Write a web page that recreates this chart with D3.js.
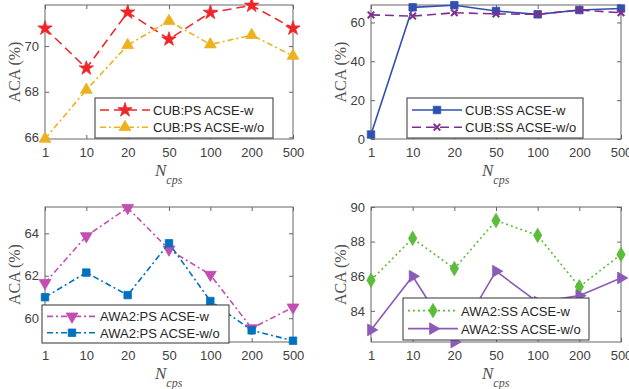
<!DOCTYPE html>
<html>
<head>
<meta charset="utf-8">
<script src="https://cdn.jsdelivr.net/npm/d3@7"></script>
<style>
  body { margin: 0; background: #fff; }
  svg { display: block; }
  .tick text { font-family: "Liberation Sans", Arial, sans-serif; font-size: 13px; fill: #404040; }
  .ylab, .xlab { font-family: "Liberation Serif", "Times New Roman", serif; fill: #505050; }
  .leg text { font-family: "Liberation Sans", Arial, sans-serif; font-size: 13px; fill: #262626; }
</style>
</head>
<body>
<main></main>
<script>
var width = 629;
var height = 389;

// x categories (N_cps)
var categories = ["1", "10", "20", "50", "100", "200", "500"];

// CUB:PS
var cubPsW  = [70.78, 69.03, 71.48, 70.30, 71.47, 71.78, 70.78];
var cubPsWo = [65.94, 68.08, 70.04, 71.10, 70.07, 70.48, 69.57];
// CUB:SS
var cubSsW  = [2.3, 67.8, 68.9, 65.9, 64.2, 66.4, 67.2];
var cubSsWo = [63.9, 63.3, 65.0, 64.4, 64.2, 66.4, 65.0];
// AWA2:PS
var awaPsW  = [61.66, 63.87, 65.20, 63.24, 62.05, 59.53, 60.51];
var awaPsWo = [60.99, 62.15, 61.09, 63.53, 60.81, 59.43, 58.94];
// AWA2:SS
var awaSsW  = [85.77, 88.19, 86.44, 89.22, 88.36, 85.39, 87.26];
var awaSsWo = [82.90, 86.00, 82.20, 86.29, 84.50, 84.88, 85.90];

// y ticks
var ticksCubPs = [66, 68, 70];
var ticksCubSs = [0, 20, 40, 60];
var ticksAwaPs = [60, 62, 64];
var ticksAwaSs = [84, 86, 88, 90];

var svg = d3.select("main").append("svg")
    .attr("width", width)
    .attr("height", height);

var panels = [
  { x0: 45, x1: 293, y0: 5, y1: 139, dom: [65.93, 71.8], ticks: ticksCubPs,
    leg: [95, 98, 178, 40],
    series: [
      { name: "CUB:PS ACSE-w", vals: cubPsW, color: "#f0252a", dash: "9,5", mark: "star" },
      { name: "CUB:PS ACSE-w/o", vals: cubPsWo, color: "#edb120", dash: "6,3,2,3", mark: "up" }
    ] },
  { x0: 371, x1: 621, y0: 5, y1: 139, dom: [0, 69], ticks: ticksCubSs,
    leg: [407, 98, 176, 40],
    series: [
      { name: "CUB:SS ACSE-w", vals: cubSsW, color: "#3050b0", dash: null, mark: "square" },
      { name: "CUB:SS ACSE-w/o", vals: cubSsWo, color: "#7e2f8e", dash: "9,5", mark: "x" }
    ] },
  { x0: 45, x1: 293, y0: 207, y1: 342, dom: [58.88, 65.24], ticks: ticksAwaPs,
    leg: [42, 305, 187, 38],
    series: [
      { name: "AWA2:PS ACSE-w", vals: awaPsW, color: "#c24eb3", dash: "6,3,2,3", mark: "down" },
      { name: "AWA2:PS ACSE-w/o", vals: awaPsWo, color: "#0072bd", dash: "6,3,2,3", mark: "square" }
    ] },
  { x0: 371, x1: 621, y0: 207, y1: 342, dom: [82.2, 90], ticks: ticksAwaSs,
    leg: [403, 298, 186, 42],
    series: [
      { name: "AWA2:SS ACSE-w", vals: awaSsW, color: "#5cbb38", dash: "2,3", mark: "diamond" },
      { name: "AWA2:SS ACSE-w/o", vals: awaSsWo, color: "#8c5bb8", dash: null, mark: "right" }
    ] }
];

panels.forEach(drawPanel);

function marker(g, kind, color) {
  var types = { star: [d3.symbolStar, 64, 0], up: [d3.symbolTriangle, 60, 0],
    down: [d3.symbolTriangle, 60, 180], right: [d3.symbolTriangle, 60, 90],
    square: [d3.symbolSquare, 56, 0], diamond: [d3.symbolDiamond, 60, 0],
    x: [d3.symbolX, 30, 0] };
  var t = types[kind];
  var p = g.append("path")
      .attr("d", d3.symbol().type(t[0]).size(t[1])())
      .attr("transform", function() { return (g.attr("data-t") || "") + " rotate(" + t[2] + ")"; });
  if (kind == "x") {
    p.attr("fill", "none").attr("stroke", color).attr("stroke-width", 2);
  } else {
    p.attr("fill", color).attr("stroke", color).attr("stroke-width", 0.8);
  }
}

function drawPanel(p) {
  var x = d3.scalePoint().domain(categories).range([p.x0, p.x1]);
  var y = d3.scaleLinear().domain(p.dom).range([p.y1, p.y0]);
  var g = svg.append("g");

  // box
  g.append("rect")
      .attr("x", p.x0).attr("y", p.y0)
      .attr("width", p.x1 - p.x0).attr("height", p.y1 - p.y0)
      .attr("fill", "none").attr("stroke", "#666").attr("stroke-width", 1);

  g.append("g").attr("transform", "translate(0," + p.y1 + ")")
      .call(d3.axisBottom(x).tickSizeInner(-4).tickSizeOuter(0).tickPadding(9));
  g.append("g").attr("transform", "translate(" + p.x0 + ",0)")
      .call(d3.axisLeft(y).tickValues(p.ticks).tickFormat(d3.format("d"))
        .tickSizeInner(-4).tickSizeOuter(0).tickPadding(6));
  g.append("g").attr("transform", "translate(0," + p.y0 + ")")
      .call(d3.axisTop(x).tickSizeInner(-4).tickSizeOuter(0).tickFormat(""));
  g.append("g").attr("transform", "translate(" + p.x1 + ",0)")
      .call(d3.axisRight(y).tickValues(p.ticks).tickSizeInner(-4).tickSizeOuter(0).tickFormat(""));
  g.selectAll(".domain").remove();
  g.selectAll(".tick line").attr("stroke", "#666");

  // axis labels
  g.append("text").attr("class", "ylab")
      .attr("transform", "translate(" + (p.x0 - 25) + "," + (p.y0 + p.y1) / 2 + ") rotate(-90)")
      .attr("text-anchor", "middle")
      .style("font-size", "16px")
      .text("ACA (%)");
  var xl = g.append("text").attr("class", "xlab")
      .attr("x", (p.x0 + p.x1) / 2 - 14).attr("y", p.y1 + 37)
      .style("font-style", "italic").style("font-size", "17px");
  xl.append("tspan").text("N");
  xl.append("tspan").attr("dy", 8).style("font-size", "12px").text("cps");

  // series
  var line = d3.line().x(function(d, i) { return x(categories[i]); }).y(function(d) { return y(d); });
  p.series.forEach(function(s) {
    g.append("path")
        .attr("d", line(s.vals))
        .attr("fill", "none")
        .attr("stroke", s.color)
        .attr("stroke-width", 1.6)
        .attr("stroke-dasharray", s.dash);
    s.vals.forEach(function(v, i) {
      var m = g.append("g").attr("data-t", "translate(" + x(categories[i]) + "," + y(v) + ")");
      marker(m, s.mark, s.color);
    });
  });

  // legend
  var l = p.leg;
  var lg = g.append("g").attr("class", "leg");
  lg.append("rect")
      .attr("x", l[0]).attr("y", l[1]).attr("width", l[2]).attr("height", l[3])
      .attr("fill", "#fff").attr("stroke", "#333").attr("stroke-width", 1);
  p.series.forEach(function(s, i) {
    var ry = l[1] + l[3] * (i == 0 ? 0.3 : 0.73);
    lg.append("line")
        .attr("x1", l[0] + 5).attr("x2", l[0] + 55)
        .attr("y1", ry).attr("y2", ry)
        .attr("stroke", s.color).attr("stroke-width", 1.6)
        .attr("stroke-dasharray", s.dash);
    var m = lg.append("g").attr("data-t", "translate(" + (l[0] + 30) + "," + ry + ")");
    marker(m, s.mark, s.color);
    lg.append("text")
        .attr("x", l[0] + 58).attr("y", ry + 5)
        .text(s.name);
  });
}
</script>
</body>
</html>
